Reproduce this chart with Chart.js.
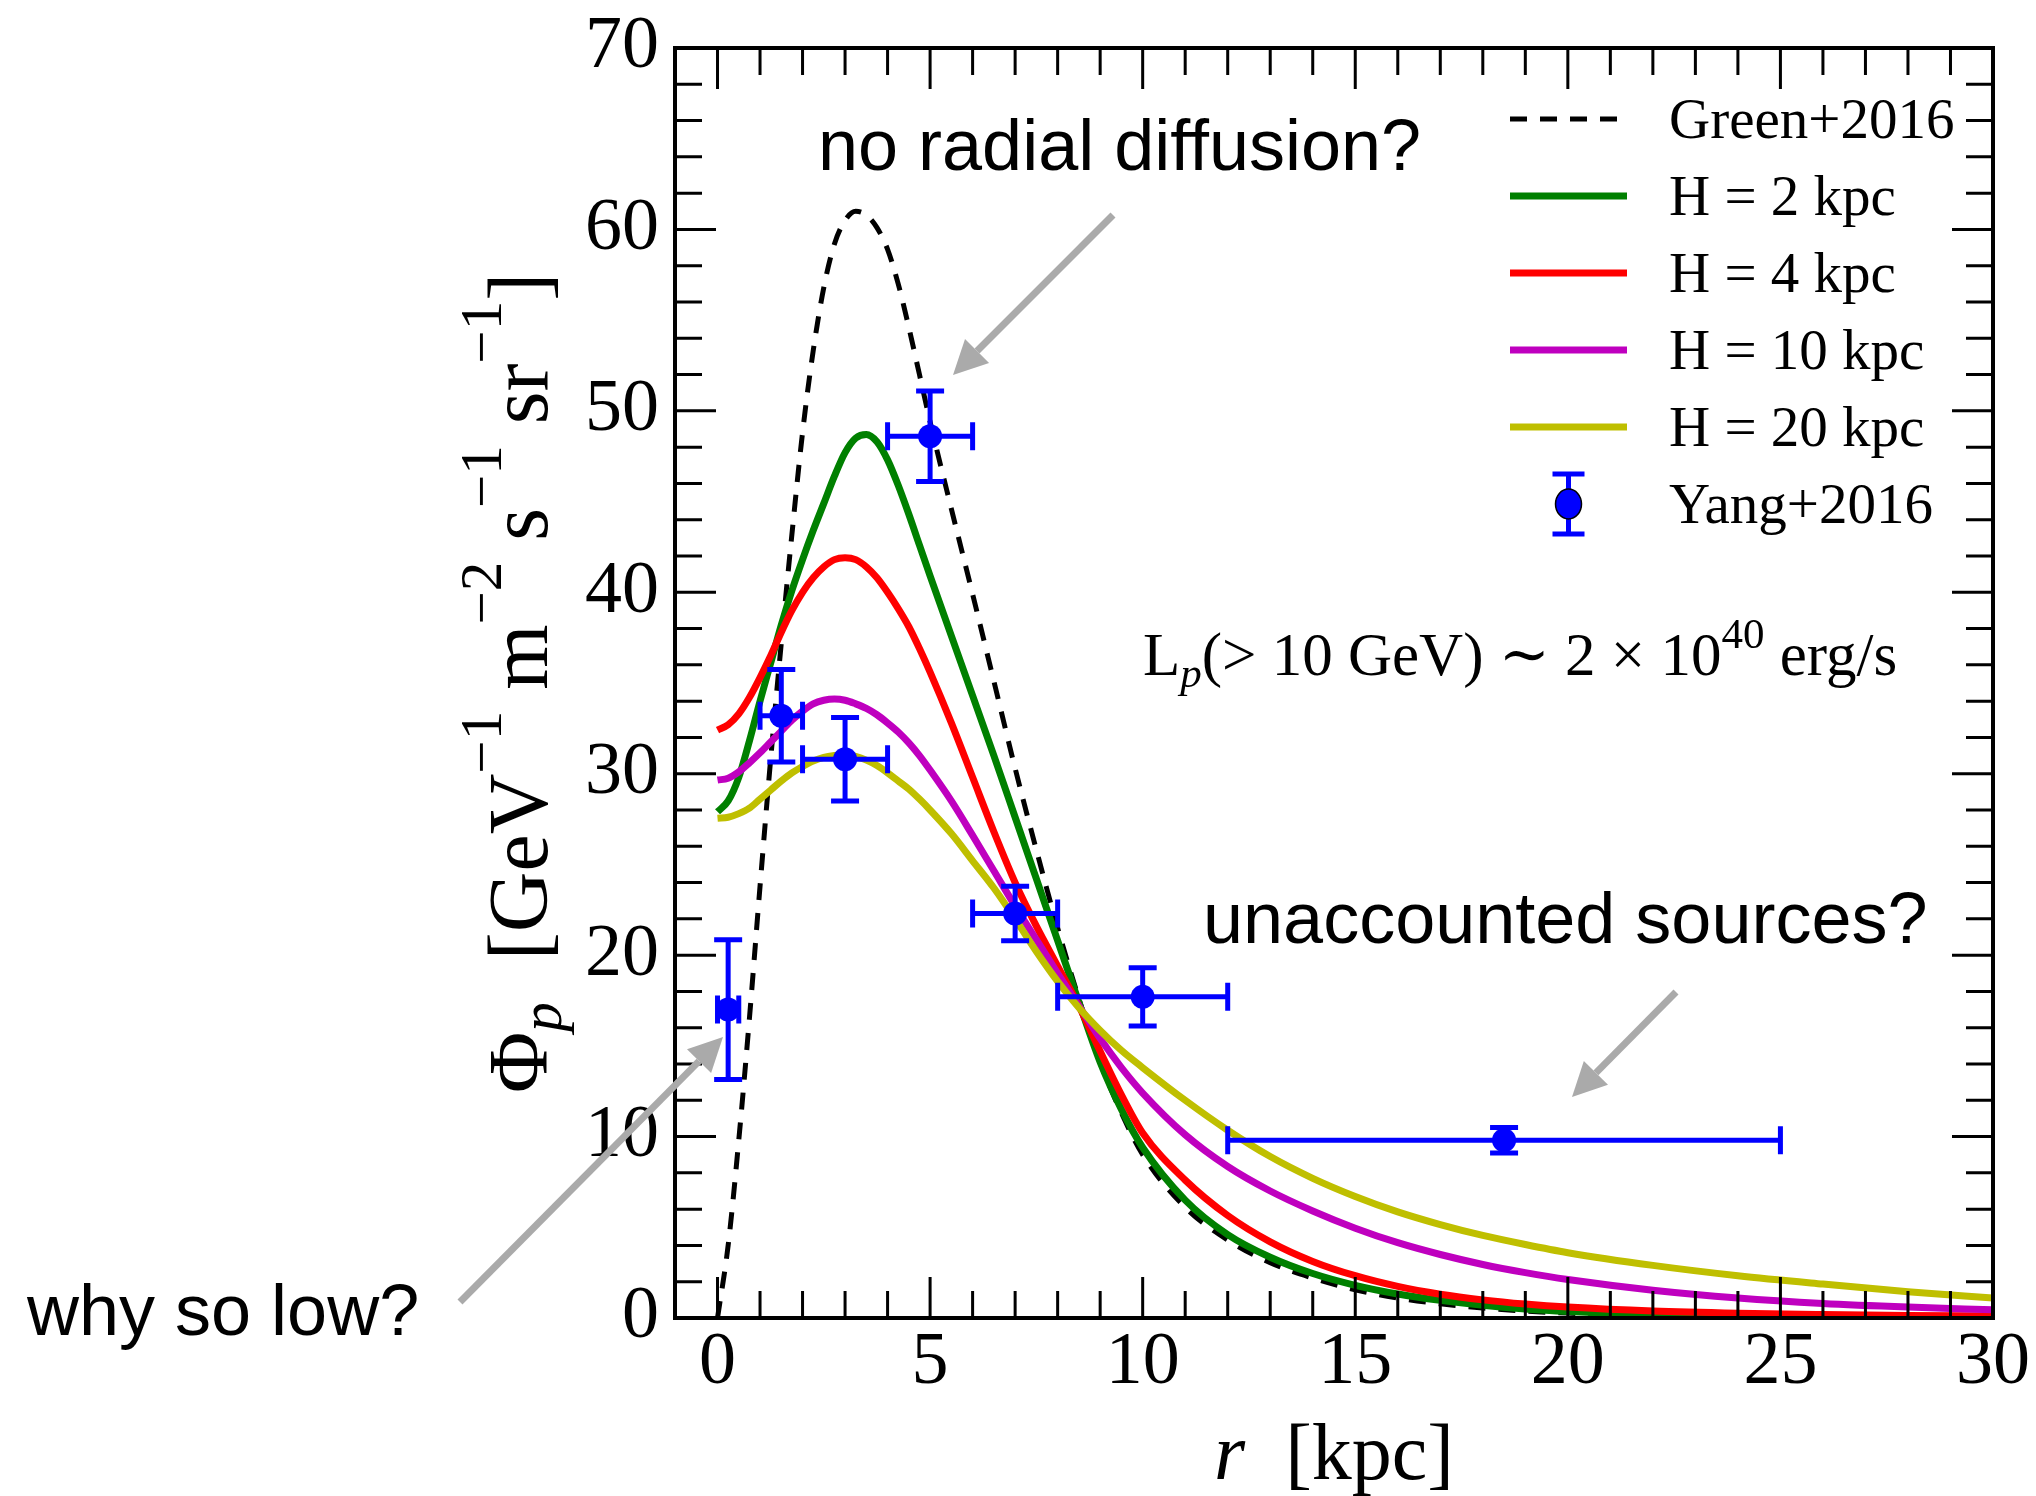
<!DOCTYPE html>
<html>
<head>
<meta charset="utf-8">
<script src="https://cdn.jsdelivr.net/npm/chart.js@4.4.0/dist/chart.umd.min.js"></script>
<style>
html, body { margin: 0; padding: 0; background: #fff; }
</style>
</head>
<body>
<canvas id="chart" width="2036" height="1496"></canvas>
<script>
// radius grid (kpc) shared by all model curves
const rGrid = [0, 0.25, 0.5, 0.75, 1, 1.25, 1.5, 1.75, 2, 2.25, 2.5, 2.75, 3, 3.25, 3.5, 3.75, 4, 4.25, 4.5, 4.75, 5,
    5.5, 6, 6.5, 7, 7.5, 8, 8.5, 9, 9.5, 10, 11, 12, 13, 14, 15, 16, 17, 18, 19, 20, 22, 24, 26, 28, 30]

const green2016 = [0, 4.0, 9.8, 16.5, 23.8, 30.8, 37.2, 43.2, 48.8, 53.3, 56.8, 59.2, 60.5, 61.0, 60.8, 60.1, 58.9, 57.0, 54.6, 52.0, 49.4,
    44.6, 39.9, 35.1, 30.3, 25.8, 21.5, 17.6, 14.1, 11.3, 9.0, 6.1, 4.3, 3.05, 2.2, 1.55, 1.1, 0.78, 0.55, 0.38, 0.27, 0.13, 0.06, 0.03, 0.015, 0.008]
const h2kpc = [27.9, 28.5, 29.8, 31.8, 34.0, 36.1, 38.2, 40.1, 41.8, 43.4, 44.9, 46.4, 47.7, 48.5, 48.7, 48.3, 47.3, 45.9, 44.3, 42.6, 40.9,
    37.6, 34.3, 31.0, 27.6, 24.2, 20.8, 17.4, 14.1, 11.5, 9.4, 6.5, 4.6, 3.35, 2.45, 1.8, 1.32, 0.97, 0.7, 0.5, 0.36, 0.18, 0.09, 0.05, 0.03, 0.02]
const h4kpc = [32.4, 32.7, 33.3, 34.2, 35.3, 36.5, 37.8, 39.0, 40.0, 40.8, 41.4, 41.8, 41.9, 41.8, 41.4, 40.8, 40.0, 39.1, 38.1, 36.9, 35.6,
    32.8, 29.8, 26.8, 24.0, 21.6, 19.4, 17.2, 14.7, 12.3, 10.2, 7.6, 5.65, 4.2, 3.12, 2.33, 1.74, 1.31, 1.0, 0.77, 0.6, 0.38, 0.26, 0.19, 0.14, 0.11]
const h10kpc = [29.65, 29.75, 30.1, 30.6, 31.15, 31.75, 32.35, 32.95, 33.45, 33.85, 34.05, 34.12, 34.05, 33.85, 33.6, 33.25, 32.8, 32.3, 31.7, 31.0, 30.2,
    28.5, 26.6, 24.65, 22.7, 20.85, 19.0, 17.2, 15.4, 13.8, 12.4, 10.1, 8.35, 7.0, 5.9, 4.95, 4.15, 3.5, 2.95, 2.5, 2.12, 1.53, 1.1, 0.8, 0.6, 0.45]
const h20kpc = [27.55, 27.6, 27.8, 28.1, 28.6, 29.1, 29.6, 30.05, 30.4, 30.7, 30.9, 31.0, 31.05, 30.95, 30.75, 30.45, 30.05, 29.6, 29.15, 28.6, 28.0,
    26.7, 25.2, 23.7, 22.0, 20.2, 18.55, 17.1, 15.85, 14.75, 13.8, 12.0, 10.35, 8.9, 7.7, 6.7, 5.85, 5.15, 4.55, 4.05, 3.6, 2.9, 2.33, 1.87, 1.45, 1.1]

// Yang+2016 points with errors
const yangR = [0.25, 1.5, 3, 5, 7, 10, 18.5]
const yangFlux = [17.0, 33.2, 30.8, 48.6, 22.3, 17.7, 9.8]
const yangRErr = [0.25, 0.5, 1, 1, 1, 2, 6.5]
const yangFluxErr = [3.85, 2.55, 2.3, 2.5, 1.5, 1.6, 0.7]

const xTicks = [0, 5, 10, 15, 20, 25, 30]
const yTicks = [0, 10, 20, 30, 40, 50, 60, 70]

const legendLabels = ['Green+2016', 'H = 2 kpc', 'H = 4 kpc', 'H = 10 kpc', 'H = 20 kpc', 'Yang+2016']

const SERIF = "'Liberation Serif', 'DejaVu Serif', serif"
const SANS = "'Liberation Sans', Arial, sans-serif"
const BLUE = '#0000ff'
const GREY = '#aaaaaa'

function curve(label, ys, color, width, dash, order) {
    return {
        label: label,
        data: rGrid.map((r, i) => ({ x: r, y: ys[i] })),
        borderColor: color,
        borderWidth: width,
        borderDash: dash,
        pointRadius: 0,
        fill: false,
        cubicInterpolationMode: 'monotone',
        order: order
    }
}

function richText(ctx, parts, x, y, size, align) {
    // parts: [text, relative size, baseline shift (em), italic]
    let fonts = parts.map(p => (p[3] ? 'italic ' : '') + Math.round(size * p[1]) + 'px ' + SERIF)
    let widths = parts.map((p, i) => { ctx.font = fonts[i]; return ctx.measureText(p[0]).width })
    let total = widths.reduce((s, w) => s + w, 0)
    let cx = align === 'center' ? x - total / 2 : x
    parts.forEach((p, i) => {
        ctx.font = fonts[i]
        ctx.fillText(p[0], cx, y + p[2] * size)
        cx += widths[i]
    })
}

function arrow(ctx, x0, y0, x1, y1) {
    let a = Math.atan2(y1 - y0, x1 - x0)
    let hl = 34, hw = 17
    let bx = x1 - hl * Math.cos(a), by = y1 - hl * Math.sin(a)
    ctx.strokeStyle = GREY
    ctx.fillStyle = GREY
    ctx.lineWidth = 7
    ctx.beginPath()
    ctx.moveTo(x0, y0)
    ctx.lineTo(bx, by)
    ctx.stroke()
    ctx.beginPath()
    ctx.moveTo(x1, y1)
    ctx.lineTo(bx + hw * Math.sin(a), by - hw * Math.cos(a))
    ctx.lineTo(bx - hw * Math.sin(a), by + hw * Math.cos(a))
    ctx.closePath()
    ctx.fill()
}

function drawErrorBars(chart) {
    const ctx = chart.ctx, xs = chart.scales.x, ys = chart.scales.y
    const cap = 14
    ctx.save()
    ctx.strokeStyle = BLUE
    ctx.lineWidth = 5
    yangR.forEach((r, i) => {
        let px = xs.getPixelForValue(r), py = ys.getPixelForValue(yangFlux[i])
        let xl = xs.getPixelForValue(r - yangRErr[i]), xr = xs.getPixelForValue(r + yangRErr[i])
        let yt = ys.getPixelForValue(yangFlux[i] + yangFluxErr[i]), yb = ys.getPixelForValue(yangFlux[i] - yangFluxErr[i])
        ctx.beginPath()
        ctx.moveTo(xl, py); ctx.lineTo(xr, py)
        ctx.moveTo(px, yt); ctx.lineTo(px, yb)
        ctx.moveTo(xl, py - cap); ctx.lineTo(xl, py + cap)
        ctx.moveTo(xr, py - cap); ctx.lineTo(xr, py + cap)
        ctx.moveTo(px - cap, yt); ctx.lineTo(px + cap, yt)
        ctx.moveTo(px - cap, yb); ctx.lineTo(px + cap, yb)
        ctx.stroke()
    })
    ctx.restore()
}

function drawFrame(chart) {
    const ctx = chart.ctx, a = chart.chartArea
    const xs = chart.scales.x, ys = chart.scales.y
    ctx.save()
    ctx.strokeStyle = '#000'
    ctx.lineWidth = 3
    ctx.beginPath()
    for (let v = 0; v <= xs.max; v++) {
        let px = xs.getPixelForValue(v)
        let len = v % 5 === 0 ? 41 : 27
        ctx.moveTo(px, a.bottom); ctx.lineTo(px, a.bottom - len)
        ctx.moveTo(px, a.top); ctx.lineTo(px, a.top + len)
    }
    for (let v = ys.min; v <= ys.max; v += 2) {
        let py = ys.getPixelForValue(v)
        let len = v % 10 === 0 ? 41 : 27
        ctx.moveTo(a.left, py); ctx.lineTo(a.left + len, py)
        ctx.moveTo(a.right, py); ctx.lineTo(a.right - len, py)
    }
    ctx.stroke()
    ctx.lineWidth = 4
    ctx.strokeRect(a.left, a.top, a.right - a.left, a.bottom - a.top)
    ctx.restore()
}

function drawTitles(chart) {
    const ctx = chart.ctx, a = chart.chartArea
    ctx.save()
    ctx.fillStyle = '#000'
    ctx.textBaseline = 'alphabetic'
    richText(ctx, [['r', 1, 0, true], ['  [kpc]', 1, 0, false]], (a.left + a.right) / 2, 1479, 80, 'center')

    ctx.translate(547, 683)
    ctx.rotate(-Math.PI / 2)
    richText(ctx, [
        ['Φ', 1, 0], ['p', 0.7, 0.17, true], ['  [GeV', 1, 0], ['−1', 0.7, -0.55],
        [' m', 1, 0], ['−2', 0.7, -0.55], [' s', 1, 0], ['−1', 0.7, -0.55],
        [' sr', 1, 0], ['−1', 0.7, -0.55], [']', 1, 0]
    ], 0, 0, 84, 'center')
    ctx.restore()
}

function drawLegend(chart) {
    const ctx = chart.ctx
    const sets = chart.data.datasets
    const x1 = 1510, x2 = 1627, tx = 1669
    ctx.save()
    legendLabels.forEach((label, i) => {
        let y = 119 + i * 77
        let ds = sets[i]
        if (i < 5) {
            ctx.strokeStyle = ds.borderColor
            ctx.lineWidth = ds.borderWidth
            ctx.setLineDash(ds.borderDash || [])
            ctx.beginPath()
            ctx.moveTo(x1, y); ctx.lineTo(x2, y)
            ctx.stroke()
            ctx.setLineDash([])
        } else {
            let mx = (x1 + x2) / 2
            ctx.strokeStyle = BLUE
            ctx.lineWidth = 5
            ctx.beginPath()
            ctx.moveTo(mx, y - 30); ctx.lineTo(mx, y + 30)
            ctx.moveTo(mx - 16, y - 30); ctx.lineTo(mx + 16, y - 30)
            ctx.moveTo(mx - 16, y + 30); ctx.lineTo(mx + 16, y + 30)
            ctx.stroke()
            ctx.fillStyle = BLUE
            ctx.strokeStyle = '#000'
            ctx.lineWidth = 1.5
            ctx.beginPath()
            ctx.ellipse(mx, y, 13, 15, 0, 0, Math.PI * 2)
            ctx.fill()
            ctx.stroke()
        }
        ctx.fillStyle = '#000'
        ctx.font = '57px ' + SERIF
        ctx.textBaseline = 'alphabetic'
        ctx.fillText(label, tx, y + 19)
    })
    ctx.restore()
}

function drawNotes(chart) {
    const ctx = chart.ctx
    ctx.save()
    ctx.fillStyle = '#000'
    ctx.textBaseline = 'alphabetic'
    ctx.font = '72px ' + SANS
    ctx.fillText('no radial diffusion?', 818, 170)
    ctx.fillText('unaccounted sources?', 1203, 943)
    ctx.fillText('why so low?', 27, 1335)

    richText(ctx, [
        ['L', 1, 0], ['p', 0.7, 0.2, true], ['(> 10 GeV) ∼ 2 × 10', 1, 0],
        ['40', 0.7, -0.45], [' erg/s', 1, 0]
    ], 1143, 675, 61, 'left')

    arrow(ctx, 1113, 215, 953, 375)
    arrow(ctx, 1676, 992, 1572, 1097)
    arrow(ctx, 460, 1302, 723, 1037)
    ctx.restore()
}

const plotDecor = {
    id: 'plotDecor',
    beforeDatasetDraw(chart, args) {
        if (args.index === 5) drawErrorBars(chart)
    },
    afterDraw(chart) {
        drawFrame(chart)
        drawTitles(chart)
        drawLegend(chart)
        drawNotes(chart)
    }
}

const tickFont = { family: SERIF, size: 74 }

new Chart(document.getElementById('chart'), {
    type: 'line',
    data: {
        datasets: [
            curve(legendLabels[0], green2016, '#000000', 5, [17, 13], 6),
            curve(legendLabels[1], h2kpc, '#008000', 7, [], 5),
            curve(legendLabels[2], h4kpc, '#ff0000', 7, [], 4),
            curve(legendLabels[3], h10kpc, '#bf00bf', 7, [], 3),
            curve(legendLabels[4], h20kpc, '#bfbf00', 7, [], 2),
            {
                label: legendLabels[5],
                data: yangR.map((r, i) => ({ x: r, y: yangFlux[i] })),
                showLine: false,
                pointRadius: 12,
                pointBackgroundColor: BLUE,
                pointBorderWidth: 0,
                order: 1
            }
        ]
    },
    options: {
        responsive: false,
        animation: false,
        devicePixelRatio: 1,
        layout: { padding: { left: 0, right: 43, top: 48, bottom: 0 } },
        plugins: {
            legend: { display: false },
            tooltip: { enabled: false }
        },
        scales: {
            x: {
                type: 'linear',
                min: -1,
                max: 30,
                afterFit: s => { s.height = 178 },
                afterBuildTicks: s => { s.ticks = xTicks.map(v => ({ value: v })) },
                grid: { display: false, drawTicks: false },
                border: { display: false },
                ticks: { font: tickFont, color: '#000', padding: 1, maxRotation: 0, autoSkip: false }
            },
            y: {
                type: 'linear',
                min: 0,
                max: 70,
                afterFit: s => { s.width = 675; s.paddingTop = 0; s.paddingBottom = 0 },
                afterBuildTicks: s => { s.ticks = yTicks.map(v => ({ value: v })) },
                grid: { display: false, drawTicks: false },
                border: { display: false },
                ticks: { font: tickFont, color: '#000', padding: 16, autoSkip: false }
            }
        }
    },
    plugins: [plotDecor]
});
</script>
</body>
</html>
